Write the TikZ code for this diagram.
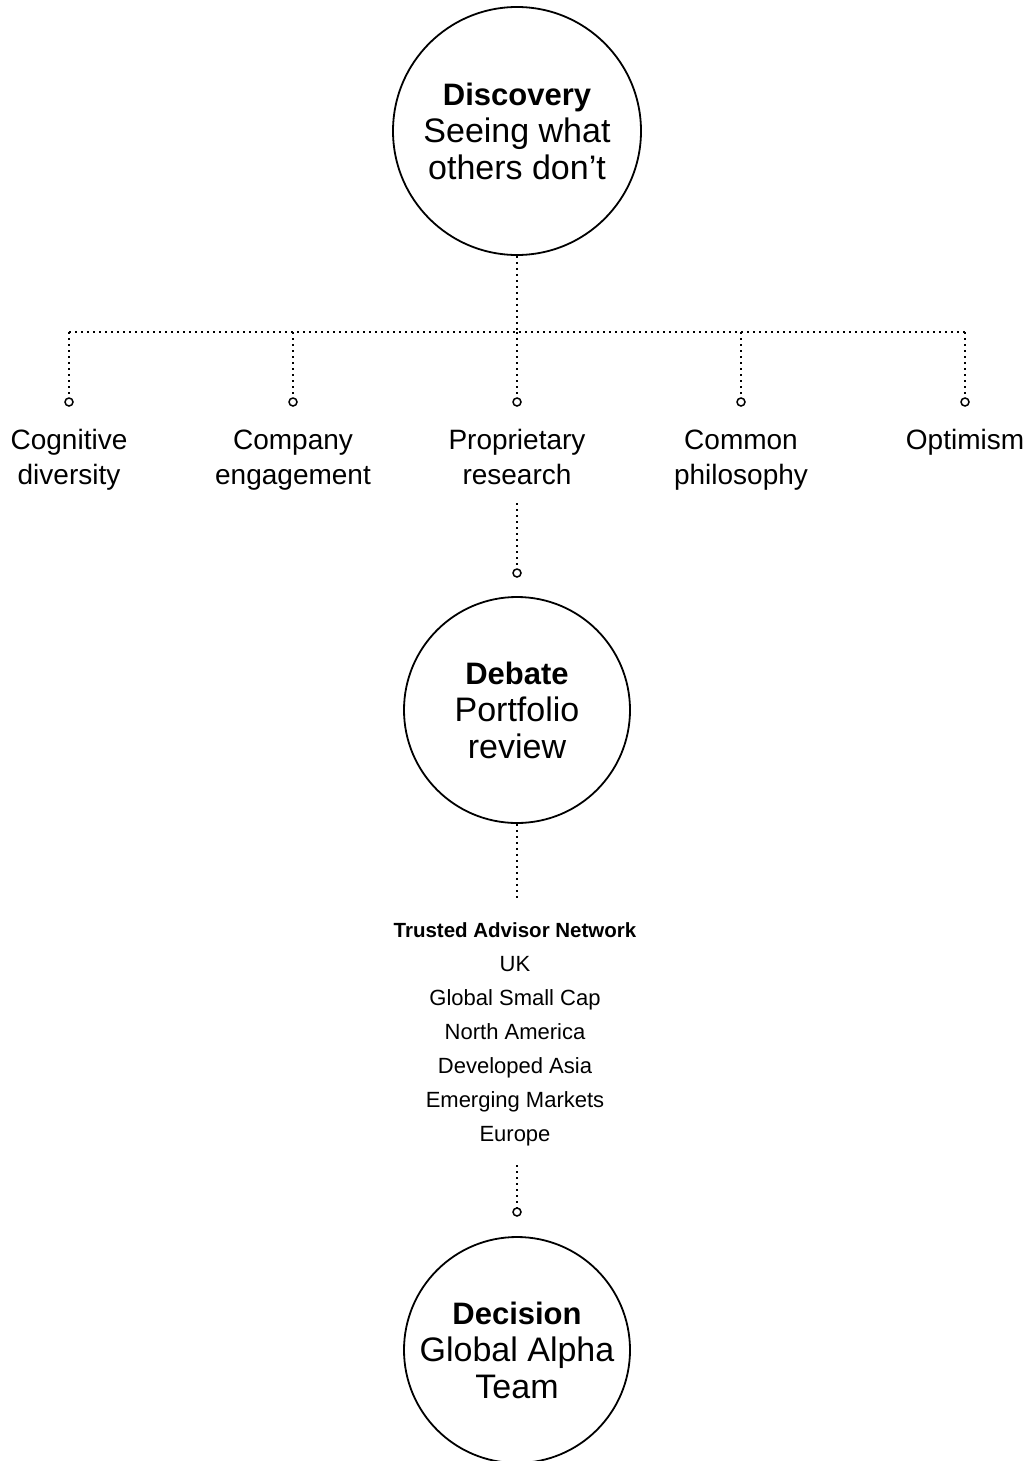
\documentclass[tikz,border=0pt]{standalone}
\usepackage{fontspec}
\setmainfont{Liberation Sans}
\usetikzlibrary{positioning}

\begin{document}
\begin{tikzpicture}
[
    x=1pt, y=-1pt,
    stage/.style={draw, circle, line width=1.8pt, inner sep=0pt, align=center,
        font=\fontsize{34}{37}\selectfont},
    topic/.style={align=center, font=\fontsize{28}{35}\selectfont},
    network/.style={align=center, font=\fontsize{22}{34}\selectfont},
    tip/.style={draw, circle, fill=white, line width=1.5pt, inner sep=0pt, minimum size=8pt},
    link/.style={line width=1.7pt, dash pattern=on 1.7pt off 4.3pt},
]
\useasboundingbox (0,0) rectangle (1030,1461);

% stages
\node [stage, minimum size=248pt] (discovery) at (517,131)
{{\fontsize{31}{37}\selectfont\bfseries Discovery}\\Seeing what\\others don’t};
\node [stage, minimum size=226pt] (debate) at (517,710)
{{\fontsize{31}{37}\selectfont\bfseries Debate}\\Portfolio\\review};
\node [stage, minimum size=226pt] (decision) at (517,1350)
{{\fontsize{31}{37}\selectfont\bfseries Decision}\\Global Alpha\\Team};

% branches
\foreach \x/\name/\txt in {69/cog/{Cognitive\\diversity}, 293/com/{Company\\engagement},
    517/res/{Proprietary\\research}, 741/phi/{Common\\philosophy}, 965/opt/{Optimism}}
{
    \coordinate (b\name) at (\x,332);
    \node [tip] (t\name) at (\x,402) {};
    \node [topic, anchor=north] (l\name) at (\x,426) {\txt};
    \draw [link] (b\name) -- (t\name);
}
\draw [link] (bcog) -- (bopt);
\draw [link] (discovery) -- (bres);

% research to debate
\coordinate (r1) at (517,503);
\node [tip] (tdebate) at (517,573) {};
\draw [link] (r1) -- (tdebate);

% trusted advisor network
\coordinate (d1) at (517,899);
\draw [link] (debate) -- (d1);
\node [network] (tan) at (515,1034)
{{\fontsize{20.5}{34}\selectfont\bfseries Trusted Advisor Network}\\UK\\Global Small Cap\\North America\\Developed Asia\\Emerging Markets\\Europe};

\coordinate (d2) at (517,1165);
\node [tip] (tdecision) at (517,1212) {};
\draw [link] (d2) -- (tdecision);
\end{tikzpicture}
\end{document}
